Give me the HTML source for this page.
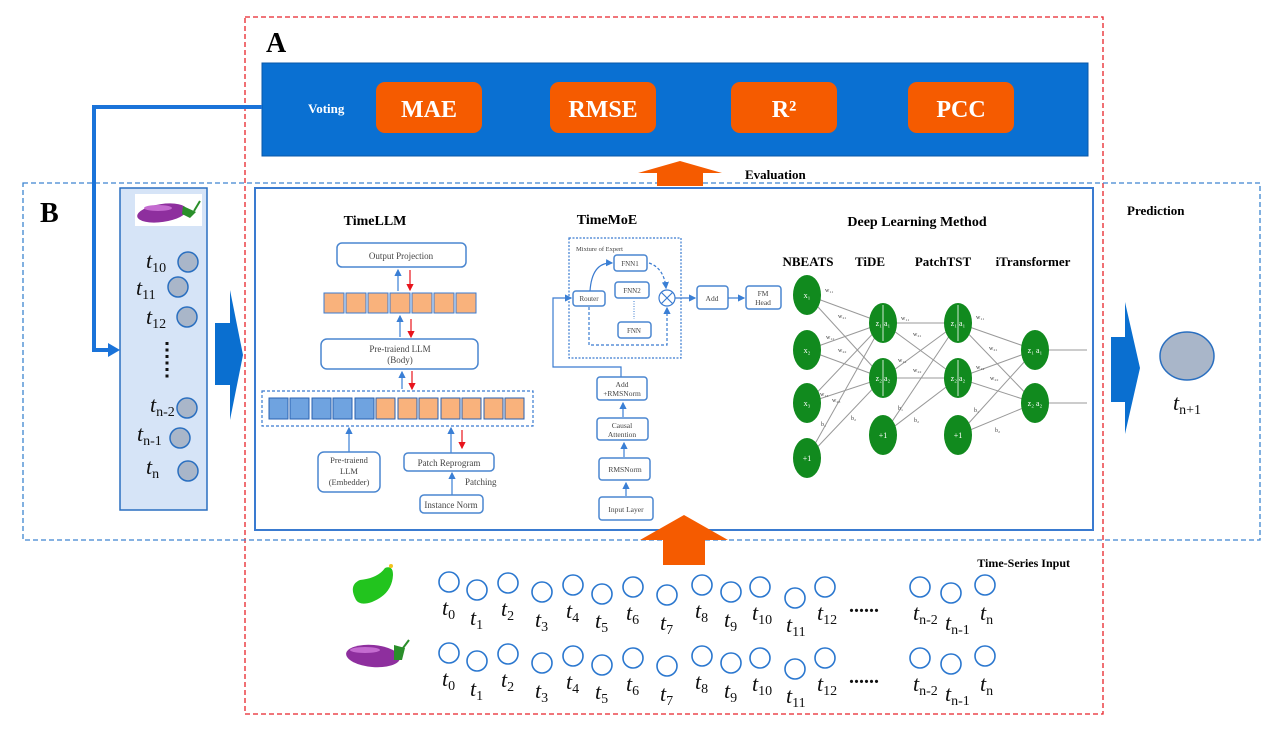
<!DOCTYPE html>
<html><head><meta charset="utf-8"><style>
html,body{margin:0;padding:0;background:#fff;}
svg{display:block;}
.b{font-family:"Liberation Serif",serif;font-weight:bold;}
.s{font-family:"Liberation Serif",serif;fill:#444;}
.t{font-family:"Liberation Serif",serif;font-style:italic;font-size:22px;fill:#111;}
.box{fill:#fff;stroke:#4a86d0;stroke-width:1.5;}
.w{font-family:"Liberation Serif",serif;fill:#fff;font-size:8px;}
</style></head><body>
<svg width="1280" height="737" viewBox="0 0 1280 737" xmlns="http://www.w3.org/2000/svg">
<defs>
<marker id="ab" markerWidth="6" markerHeight="6" refX="5" refY="3" orient="auto"><path d="M0,0 L6,3 L0,6z" fill="#3a7fd5"/></marker>
<marker id="ar" markerWidth="6" markerHeight="6" refX="5" refY="3" orient="auto"><path d="M0,0 L6,3 L0,6z" fill="#e8141c"/></marker>
</defs>
<!-- outer dashed -->
<rect x="245" y="17" width="858" height="697" fill="none" stroke="#e8232a" stroke-width="1.3" stroke-dasharray="5,3"/>
<rect x="23" y="183" width="1237" height="357" fill="none" stroke="#3d85d0" stroke-width="1.3" stroke-dasharray="5,3"/>
<text x="266" y="52" class="b" font-size="28">A</text>
<text x="40" y="222" class="b" font-size="28">B</text>
<!-- A panel -->
<rect x="262" y="63" width="826" height="93" fill="#0a70d2" stroke="#0857a8"/>
<text x="308" y="113" class="b" font-size="13" fill="#fff">Voting</text>
<g class="b" font-size="24" fill="#fff" text-anchor="middle">
<rect x="376" y="82" width="106" height="51" rx="9" fill="#f55b00"/><text x="429" y="117">MAE</text>
<rect x="550" y="82" width="106" height="51" rx="9" fill="#f55b00"/><text x="603" y="117">RMSE</text>
<rect x="731" y="82" width="106" height="51" rx="9" fill="#f55b00"/><text x="784" y="117">R²</text>
<rect x="908" y="82" width="106" height="51" rx="9" fill="#f55b00"/><text x="961" y="117">PCC</text>
</g>
<path d="M680,161 L722,173 L703,173 L703,186 L657,186 L657,173 L638,173z" fill="#f55b00"/>
<text x="745" y="179" class="b" font-size="13">Evaluation</text>
<!-- connector -->
<path d="M262,107 L94,107 L94,350 L110,350" fill="none" stroke="#1a73d9" stroke-width="4"/>
<path d="M108,343 L120,350 L108,357z" fill="#1a73d9"/>
<!-- left panel -->
<rect x="120" y="188" width="87" height="322" fill="#d6e4f7" stroke="#2a6fc0" stroke-width="1.5"/>
<rect x="135" y="194" width="67" height="32" fill="#fff"/>
<ellipse cx="162" cy="213" rx="25" ry="9" fill="#8e2f9e" transform="rotate(-8 162 213)"/>
<ellipse cx="158" cy="208" rx="14" ry="3" fill="#c46bd0"/>
<path d="M183,206 L196,212 L190,218 L182,214z" fill="#2a8f2a"/><path d="M194,211 L200,201" stroke="#2a8f2a" stroke-width="2"/>
<g fill="#a9b6c9" stroke="#2a6fc0" stroke-width="1.5">
<circle cx="188" cy="262" r="10"/><circle cx="178" cy="287" r="10"/><circle cx="187" cy="317" r="10"/>
<circle cx="187" cy="408" r="10"/><circle cx="180" cy="438" r="10"/><circle cx="188" cy="471" r="10"/>
</g>
<text x="146" y="268" class="t">t<tspan dy="4" font-size="14" font-style="normal">10</tspan></text>
<text x="136" y="295" class="t">t<tspan dy="4" font-size="14" font-style="normal">11</tspan></text>
<text x="146" y="324" class="t">t<tspan dy="4" font-size="14" font-style="normal">12</tspan></text>
<line x1="167" y1="342" x2="167" y2="378" stroke="#111" stroke-width="3" stroke-dasharray="3,3.5"/>
<text x="150" y="412" class="t">t<tspan dy="4" font-size="14" font-style="normal">n-2</tspan></text>
<text x="137" y="441" class="t">t<tspan dy="4" font-size="14" font-style="normal">n-1</tspan></text>
<text x="146" y="474" class="t">t<tspan dy="4" font-size="14" font-style="normal">n</tspan></text>
<!-- big arrows -->
<path d="M215,323 L230,323 L230,290 L243,355 L230,420 L230,385 L215,385z" fill="#0a6fd0"/>
<path d="M1111,337 L1125,337 L1125,302 L1140,368 L1125,434 L1125,402 L1111,402z" fill="#0a6fd0"/>
<text x="1127" y="215" class="b" font-size="13">Prediction</text>
<ellipse cx="1187" cy="356" rx="27" ry="24" fill="#a9b6c9" stroke="#2a6fc0" stroke-width="1.5"/>
<text x="1173" y="410" class="t">t<tspan dy="4" font-size="14" font-style="normal">n+1</tspan></text>
<!-- inner box -->
<rect x="255" y="188" width="838" height="342" fill="#fff" stroke="#3a7bd0" stroke-width="2"/>
<!-- TimeLLM -->
<text x="375" y="225" class="b" font-size="14" text-anchor="middle">TimeLLM</text>
<rect x="337" y="243" width="129" height="24" rx="5" class="box"/>
<text x="401" y="259" class="s" font-size="9" text-anchor="middle">Output Projection</text>
<g fill="#f9b27c" stroke="#3a7bd0" stroke-width="1">
<rect x="324" y="293" width="20" height="20"/><rect x="346" y="293" width="20" height="20"/><rect x="368" y="293" width="20" height="20"/><rect x="390" y="293" width="20" height="20"/><rect x="412" y="293" width="20" height="20"/><rect x="434" y="293" width="20" height="20"/><rect x="456" y="293" width="20" height="20"/>
</g>
<rect x="321" y="339" width="157" height="30" rx="6" class="box"/>
<text x="400" y="352" class="s" font-size="9" text-anchor="middle">Pre-traiend LLM</text>
<text x="400" y="363" class="s" font-size="9" text-anchor="middle">(Body)</text>
<rect x="262" y="391" width="271" height="35" fill="none" stroke="#3a7bd0" stroke-width="1.2" stroke-dasharray="3,2"/>
<g stroke="#2a62b0" stroke-width="1">
<g fill="#6fa3e0"><rect x="269" y="398" width="19" height="21"/><rect x="290" y="398" width="19" height="21"/><rect x="312" y="398" width="19" height="21"/><rect x="333" y="398" width="19" height="21"/><rect x="355" y="398" width="19" height="21"/></g>
<g fill="#f9b27c"><rect x="376" y="398" width="19" height="21"/><rect x="398" y="398" width="19" height="21"/><rect x="419" y="398" width="19" height="21"/><rect x="441" y="398" width="19" height="21"/><rect x="462" y="398" width="19" height="21"/><rect x="484" y="398" width="19" height="21"/><rect x="505" y="398" width="19" height="21"/></g>
</g>
<g stroke="#3a7fd5" stroke-width="1.2" marker-end="url(#ab)">
<line x1="398" y1="291" x2="398" y2="270"/><line x1="400" y1="337" x2="400" y2="316"/><line x1="402" y1="389" x2="402" y2="372"/>
<line x1="349" y1="452" x2="349" y2="428"/><line x1="451" y1="453" x2="451" y2="428"/><line x1="452" y1="495" x2="452" y2="473"/>
</g>
<g stroke="#e8141c" stroke-width="1.2" marker-end="url(#ar)">
<line x1="410" y1="270" x2="410" y2="290"/><line x1="411" y1="319" x2="411" y2="337"/><line x1="412" y1="371" x2="412" y2="389"/><line x1="462" y1="430" x2="462" y2="448"/>
</g>
<rect x="318" y="452" width="62" height="40" rx="6" class="box"/>
<text x="349" y="463" class="s" font-size="8.5" text-anchor="middle">Pre-traiend</text>
<text x="349" y="474" class="s" font-size="8.5" text-anchor="middle">LLM</text>
<text x="349" y="485" class="s" font-size="8.5" text-anchor="middle">(Embedder)</text>
<rect x="404" y="453" width="90" height="18" rx="4" class="box"/>
<text x="449" y="466" class="s" font-size="9" text-anchor="middle">Patch Reprogram</text>
<text x="465" y="485" class="s" font-size="9">Patching</text>
<rect x="420" y="495" width="63" height="18" rx="4" class="box"/>
<text x="451" y="508" class="s" font-size="9" text-anchor="middle">Instance Norm</text>
<!-- TimeMoE -->
<text x="607" y="224" class="b" font-size="14" text-anchor="middle">TimeMoE</text>
<rect x="569" y="238" width="112" height="120" fill="none" stroke="#3a7bd0" stroke-width="1.2" stroke-dasharray="2,1.5"/>
<text x="576" y="251" class="s" font-size="6.5">Mixture of  Expert</text>
<rect x="614" y="255" width="33" height="16" rx="3" class="box"/><text x="630" y="266" class="s" font-size="7" text-anchor="middle">FNN1</text>
<rect x="615" y="282" width="34" height="16" rx="3" class="box"/><text x="632" y="293" class="s" font-size="7" text-anchor="middle">FNN2</text>
<rect x="618" y="322" width="33" height="16" rx="3" class="box"/><text x="634" y="333" class="s" font-size="7" text-anchor="middle">FNN</text>
<line x1="634" y1="301" x2="634" y2="319" stroke="#3a7bd0" stroke-dasharray="1,1.5"/>
<rect x="573" y="291" width="32" height="15" rx="3" class="box"/><text x="589" y="301" class="s" font-size="7" text-anchor="middle">Router</text>
<circle cx="667" cy="298" r="8" fill="#fff" stroke="#3a7bd0" stroke-width="1.2"/>
<path d="M661.5,292.5 L672.5,303.5 M672.5,292.5 L661.5,303.5" stroke="#3a7bd0" stroke-width="1.2"/>
<path d="M590,291 Q592,262 612,263" fill="none" stroke="#3a7bd0" stroke-width="1.2" marker-end="url(#ab)"/>
<path d="M649,263 Q664,268 666,288" fill="none" stroke="#3a7bd0" stroke-width="1.2" stroke-dasharray="3,2" marker-end="url(#ab)"/>
<path d="M589,307 L589,345 L667,345 L667,308" fill="none" stroke="#3a7bd0" stroke-width="1.2" stroke-dasharray="3,2" marker-end="url(#ab)"/>
<line x1="675" y1="298" x2="695" y2="298" stroke="#3a7bd0" stroke-width="1.2" marker-end="url(#ab)"/>
<rect x="697" y="286" width="31" height="23" rx="3" class="box"/><text x="712" y="301" class="s" font-size="7.5" text-anchor="middle">Add</text>
<line x1="728" y1="298" x2="744" y2="298" stroke="#3a7bd0" stroke-width="1.2" marker-end="url(#ab)"/>
<rect x="746" y="286" width="35" height="23" rx="3" class="box"/><text x="763" y="296" class="s" font-size="7.5" text-anchor="middle">FM</text><text x="763" y="305" class="s" font-size="7.5" text-anchor="middle">Head</text>
<path d="M621,377 L621,367 L553,367 L553,298 L571,298" fill="none" stroke="#3a7bd0" stroke-width="1.2" marker-end="url(#ab)"/>
<rect x="597" y="377" width="50" height="23" rx="3" class="box"/><text x="622" y="387" class="s" font-size="7.5" text-anchor="middle">Add</text><text x="622" y="396" class="s" font-size="7.5" text-anchor="middle">+RMSNorm</text>
<rect x="597" y="418" width="51" height="22" rx="3" class="box"/><text x="622" y="428" class="s" font-size="7.5" text-anchor="middle">Causal</text><text x="622" y="437" class="s" font-size="7.5" text-anchor="middle">Attention</text>
<rect x="599" y="458" width="51" height="22" rx="3" class="box"/><text x="625" y="472" class="s" font-size="7.5" text-anchor="middle">RMSNorm</text>
<rect x="599" y="497" width="54" height="23" rx="3" class="box"/><text x="626" y="512" class="s" font-size="7.5" text-anchor="middle">Input Layer</text>
<g stroke="#3a7fd5" stroke-width="1.2" marker-end="url(#ab)">
<line x1="623" y1="417" x2="623" y2="403"/><line x1="624" y1="457" x2="624" y2="443"/><line x1="626" y1="496" x2="626" y2="483"/>
</g>
<!-- NN -->
<text x="917" y="226" class="b" font-size="14" text-anchor="middle">Deep Learning Method</text>
<g class="b" font-size="13" text-anchor="middle">
<text x="808" y="266">NBEATS</text><text x="870" y="266">TiDE</text><text x="943" y="266">PatchTST</text><text x="1033" y="266">iTransformer</text>
</g>
<g stroke="#999" stroke-width="1">
<line x1="807" y1="295" x2="883" y2="323"/><line x1="807" y1="295" x2="883" y2="378"/>
<line x1="807" y1="350" x2="883" y2="323"/><line x1="807" y1="350" x2="883" y2="378"/>
<line x1="807" y1="403" x2="883" y2="323"/><line x1="807" y1="403" x2="883" y2="378"/>
<line x1="807" y1="458" x2="883" y2="323"/><line x1="807" y1="458" x2="883" y2="378"/>
<line x1="883" y1="323" x2="958" y2="323"/><line x1="883" y1="323" x2="958" y2="378"/>
<line x1="883" y1="378" x2="958" y2="323"/><line x1="883" y1="378" x2="958" y2="378"/>
<line x1="883" y1="435" x2="958" y2="323"/><line x1="883" y1="435" x2="958" y2="378"/>
<line x1="958" y1="323" x2="1035" y2="350"/><line x1="958" y1="323" x2="1035" y2="403"/>
<line x1="958" y1="378" x2="1035" y2="350"/><line x1="958" y1="378" x2="1035" y2="403"/>
<line x1="958" y1="435" x2="1035" y2="350"/><line x1="958" y1="435" x2="1035" y2="403"/>
<line x1="1035" y1="350" x2="1087" y2="350"/><line x1="1035" y1="403" x2="1087" y2="403"/>
</g>
<g fill="#118a1e">
<ellipse cx="807" cy="295" rx="14" ry="20"/><ellipse cx="807" cy="350" rx="14" ry="20"/><ellipse cx="807" cy="403" rx="14" ry="20"/><ellipse cx="807" cy="458" rx="14" ry="20"/>
<ellipse cx="883" cy="323" rx="14" ry="20"/><ellipse cx="883" cy="378" rx="14" ry="20"/><ellipse cx="883" cy="435" rx="14" ry="20"/>
<ellipse cx="958" cy="323" rx="14" ry="20"/><ellipse cx="958" cy="378" rx="14" ry="20"/><ellipse cx="958" cy="435" rx="14" ry="20"/>
<ellipse cx="1035" cy="350" rx="14" ry="20"/><ellipse cx="1035" cy="403" rx="14" ry="20"/>
</g>
<g stroke="#fff" stroke-width="0.8"><line x1="883" y1="305" x2="883" y2="341"/><line x1="883" y1="360" x2="883" y2="396"/><line x1="958" y1="305" x2="958" y2="341"/><line x1="958" y1="360" x2="958" y2="396"/></g>
<g class="w" text-anchor="middle">
<text x="807" y="298">x₁</text><text x="807" y="353">x₂</text><text x="807" y="406">x₃</text><text x="807" y="461">+1</text>
<text x="883" y="326">z₁ a₁</text><text x="883" y="381">z₂ a₂</text><text x="883" y="438">+1</text>
<text x="958" y="326">z₁ a₁</text><text x="958" y="381">z₂ a₂</text><text x="958" y="438">+1</text>
<text x="1035" y="353">z₁ a₁</text><text x="1035" y="406">z₂ a₂</text>
</g>
<g class="s" font-size="6">
<text x="825" y="292">w₁₁</text><text x="838" y="318">w₂₁</text><text x="826" y="339">w₁₂</text><text x="838" y="352">w₂₂</text><text x="820" y="396">w₁₃</text><text x="832" y="402">w₂₃</text><text x="851" y="420">b₂</text><text x="821" y="426">b₁</text>
<text x="901" y="320">w₁₁</text><text x="913" y="336">w₂₁</text><text x="898" y="362">w₁₂</text><text x="913" y="372">w₂₂</text><text x="898" y="410">b₁</text><text x="914" y="422">b₂</text>
<text x="976" y="319">w₁₁</text><text x="989" y="350">w₂₁</text><text x="976" y="369">w₁₂</text><text x="990" y="380">w₂₂</text><text x="974" y="412">b₁</text><text x="995" y="432">b₂</text>
</g>
<!-- bottom arrow -->
<path d="M684,515 L728,540 L705,540 L705,565 L663,565 L663,540 L640,540z" fill="#f55b00"/>
<text x="1070" y="567" class="b" font-size="12" text-anchor="end">Time-Series Input</text>
<!-- cucumber -->
<path d="M356,600 Q348,585 360,580 Q378,578 385,568 Q393,565 393,575 Q392,594 372,602 Q360,606 356,600z" fill="#22c41e"/>
<circle cx="391" cy="566" r="2" fill="#f2c21e"/>
<!-- eggplant -->
<ellipse cx="373" cy="656" rx="27" ry="11" fill="#8e2f9e" transform="rotate(5 373 656)"/>
<ellipse cx="365" cy="650" rx="15" ry="3" fill="#c46bd0"/>
<path d="M394,645 L405,648 L402,660 L394,660z" fill="#2a8f2a"/><path d="M403,648 L409,640" stroke="#2a8f2a" stroke-width="2"/>
<!-- series rows -->
<g fill="none" stroke="#2a77cf" stroke-width="1.6">
<circle cx="449" cy="582" r="10"/><circle cx="477" cy="590" r="10"/><circle cx="508" cy="583" r="10"/><circle cx="542" cy="592" r="10"/><circle cx="573" cy="585" r="10"/><circle cx="602" cy="594" r="10"/><circle cx="633" cy="587" r="10"/><circle cx="667" cy="595" r="10"/><circle cx="702" cy="585" r="10"/><circle cx="731" cy="592" r="10"/><circle cx="760" cy="587" r="10"/><circle cx="795" cy="598" r="10"/><circle cx="825" cy="587" r="10"/><circle cx="920" cy="587" r="10"/><circle cx="951" cy="593" r="10"/><circle cx="985" cy="585" r="10"/>
</g>
<g fill="none" stroke="#2a77cf" stroke-width="1.6" transform="translate(0,71)">
<circle cx="449" cy="582" r="10"/><circle cx="477" cy="590" r="10"/><circle cx="508" cy="583" r="10"/><circle cx="542" cy="592" r="10"/><circle cx="573" cy="585" r="10"/><circle cx="602" cy="594" r="10"/><circle cx="633" cy="587" r="10"/><circle cx="667" cy="595" r="10"/><circle cx="702" cy="585" r="10"/><circle cx="731" cy="592" r="10"/><circle cx="760" cy="587" r="10"/><circle cx="795" cy="598" r="10"/><circle cx="825" cy="587" r="10"/><circle cx="920" cy="587" r="10"/><circle cx="951" cy="593" r="10"/><circle cx="985" cy="585" r="10"/>
</g>
<g id="lbl">
<text x="442" y="615" class="t">t<tspan dy="4" font-size="14" font-style="normal">0</tspan></text>
<text x="470" y="625" class="t">t<tspan dy="4" font-size="14" font-style="normal">1</tspan></text>
<text x="501" y="616" class="t">t<tspan dy="4" font-size="14" font-style="normal">2</tspan></text>
<text x="535" y="627" class="t">t<tspan dy="4" font-size="14" font-style="normal">3</tspan></text>
<text x="566" y="618" class="t">t<tspan dy="4" font-size="14" font-style="normal">4</tspan></text>
<text x="595" y="628" class="t">t<tspan dy="4" font-size="14" font-style="normal">5</tspan></text>
<text x="626" y="620" class="t">t<tspan dy="4" font-size="14" font-style="normal">6</tspan></text>
<text x="660" y="630" class="t">t<tspan dy="4" font-size="14" font-style="normal">7</tspan></text>
<text x="695" y="618" class="t">t<tspan dy="4" font-size="14" font-style="normal">8</tspan></text>
<text x="724" y="627" class="t">t<tspan dy="4" font-size="14" font-style="normal">9</tspan></text>
<text x="752" y="620" class="t">t<tspan dy="4" font-size="14" font-style="normal">10</tspan></text>
<text x="786" y="632" class="t">t<tspan dy="4" font-size="14" font-style="normal">11</tspan></text>
<text x="817" y="620" class="t">t<tspan dy="4" font-size="14" font-style="normal">12</tspan></text>
<text x="849" y="612" font-family="Liberation Serif,serif" font-size="20" font-weight="bold" fill="#111">......</text>
<text x="913" y="620" class="t">t<tspan dy="4" font-size="14" font-style="normal">n-2</tspan></text>
<text x="945" y="630" class="t">t<tspan dy="4" font-size="14" font-style="normal">n-1</tspan></text>
<text x="980" y="620" class="t">t<tspan dy="4" font-size="14" font-style="normal">n</tspan></text>
</g>
<g transform="translate(0,71)">
<text x="442" y="615" class="t">t<tspan dy="4" font-size="14" font-style="normal">0</tspan></text>
<text x="470" y="625" class="t">t<tspan dy="4" font-size="14" font-style="normal">1</tspan></text>
<text x="501" y="616" class="t">t<tspan dy="4" font-size="14" font-style="normal">2</tspan></text>
<text x="535" y="627" class="t">t<tspan dy="4" font-size="14" font-style="normal">3</tspan></text>
<text x="566" y="618" class="t">t<tspan dy="4" font-size="14" font-style="normal">4</tspan></text>
<text x="595" y="628" class="t">t<tspan dy="4" font-size="14" font-style="normal">5</tspan></text>
<text x="626" y="620" class="t">t<tspan dy="4" font-size="14" font-style="normal">6</tspan></text>
<text x="660" y="630" class="t">t<tspan dy="4" font-size="14" font-style="normal">7</tspan></text>
<text x="695" y="618" class="t">t<tspan dy="4" font-size="14" font-style="normal">8</tspan></text>
<text x="724" y="627" class="t">t<tspan dy="4" font-size="14" font-style="normal">9</tspan></text>
<text x="752" y="620" class="t">t<tspan dy="4" font-size="14" font-style="normal">10</tspan></text>
<text x="786" y="632" class="t">t<tspan dy="4" font-size="14" font-style="normal">11</tspan></text>
<text x="817" y="620" class="t">t<tspan dy="4" font-size="14" font-style="normal">12</tspan></text>
<text x="849" y="612" font-family="Liberation Serif,serif" font-size="20" font-weight="bold" fill="#111">......</text>
<text x="913" y="620" class="t">t<tspan dy="4" font-size="14" font-style="normal">n-2</tspan></text>
<text x="945" y="630" class="t">t<tspan dy="4" font-size="14" font-style="normal">n-1</tspan></text>
<text x="980" y="620" class="t">t<tspan dy="4" font-size="14" font-style="normal">n</tspan></text>
</g>
</svg>
</body></html>
